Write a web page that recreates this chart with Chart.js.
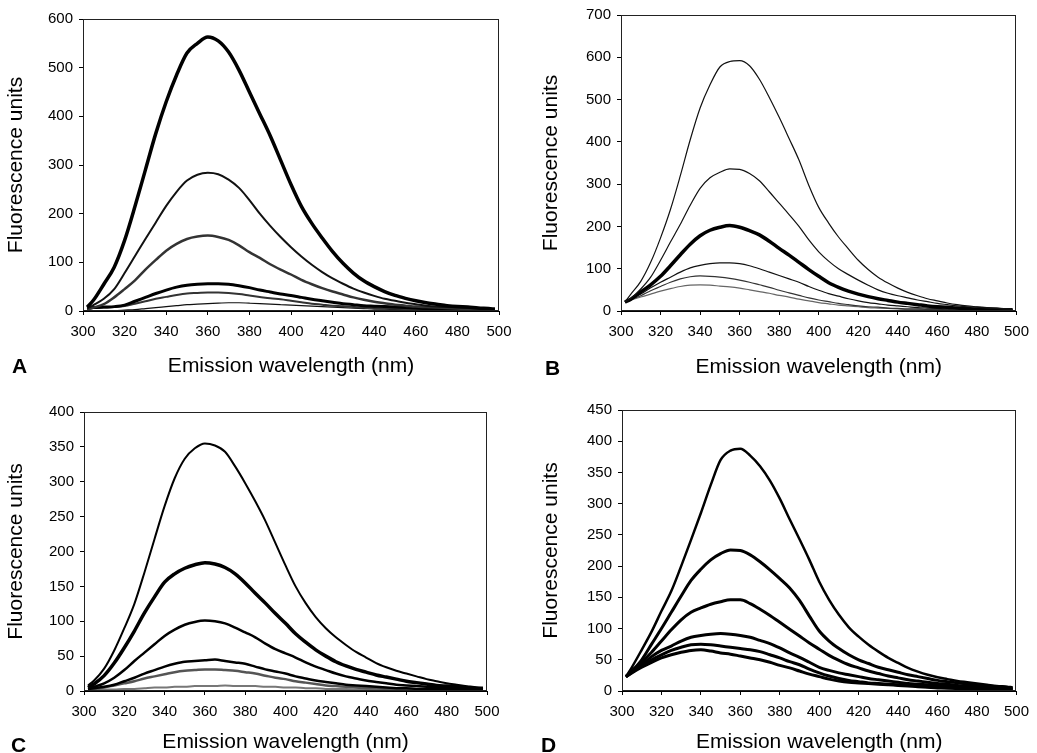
<!DOCTYPE html>
<html><head><meta charset="utf-8">
<script src="https://cdn.jsdelivr.net/npm/chart.js@4/dist/chart.umd.min.js"></script>
<style>
html,body{margin:0;padding:0;background:#fff;}
#wrap{position:relative;width:1037px;height:753px;overflow:hidden;background:#fff;}
canvas{position:absolute;}
.lbl{position:absolute;font:bold 21px "Liberation Sans",Arial,sans-serif;line-height:21px;color:#000;}
</style></head><body>
<div id="wrap">
<canvas id="cA" width="520" height="380" style="left:0;top:0"></canvas>
<canvas id="cB" width="517" height="380" style="left:520px;top:0"></canvas>
<canvas id="cC" width="520" height="373" style="left:0;top:380px"></canvas>
<canvas id="cD" width="517" height="373" style="left:520px;top:380px"></canvas>
<div class="lbl" style="left:12px;top:355px">A</div>
<div class="lbl" style="left:545px;top:357px">B</div>
<div class="lbl" style="left:11px;top:734px">C</div>
<div class="lbl" style="left:541px;top:734px">D</div>
</div>
<script>
const wavelengths = [302,305,310,315,320,325,330,335,340,345,350,355,360,365,370,375,380,385,390,395,400,405,410,415,420,425,430,435,440,445,450,455,460,465,470,475,480,485,490,495,498];

const xTitle = 'Emission wavelength (nm)';
const yTitle = 'Fluorescence units';

// Panel A
const A1 = [8,22,55,90,145,215,290,365,430,485,530,550,563,555,532,495,450,405,360,310,260,215,180,150,122,98,78,62,50,40,32,26,21,17,14,11,9,8,6,5,4];
const A2 = [5,12,25,45,78,113,148,182,216,245,268,280,284,281,270,253,228,200,175,152,131,112,95,80,67,56,46,38,31,25,21,17,14,11,9,8,7,6,5,4,3];
const A3 = [3,7,14,28,45,63,85,105,124,138,148,153,155,152,146,135,121,109,96,85,75,64,55,47,40,34,28,23,19,16,13,11,9,8,7,6,5,4,4,3,3];
const A4 = [6,7,8,9,12,20,28,36,43,49,53,55,56,56,55,52,48,43,39,35,32,28,24,21,18,15,13,11,10,9,8,7,6,5,5,4,4,4,3,3,3];
const A5 = [5,6,7,8,10,15,20,25,29,33,36,37,38,38,37,35,32,29,26,24,21,18,15,13,11,10,8,7,6,5,5,4,4,4,3,3,3,3,2,2,2];
const A6 = [2,1,1,1,2,3,5,7,9,11,13,14,15,16,17,17,16,15,14,13,12,11,10,9,8,7,6,5,4,4,3,3,2,2,2,2,1,1,1,1,1];

// Panel B
const B1 = [21,40,70,115,173,240,320,405,480,535,577,590,592,580,548,505,458,408,357,297,245,208,175,147,120,98,80,66,54,44,36,29,24,19,15,12,10,8,6,5,4];
const B2 = [21,30,52,80,120,163,205,250,290,315,328,336,335,325,308,282,255,228,200,168,140,118,100,86,73,61,50,42,36,31,26,22,18,15,12,10,9,7,6,5,4];
const B3 = [21,28,45,62,82,107,133,158,178,191,198,202,198,190,180,165,148,132,115,98,82,67,56,47,40,34,29,25,21,18,15,12,10,9,7,6,5,5,4,3,3];
const B4 = [21,28,40,55,68,80,92,102,108,112,114,114,112,107,100,92,84,76,68,58,49,41,35,29,24,20,17,14,12,10,8,7,6,5,5,4,4,3,3,3,2];
const B5 = [21,27,36,48,58,68,76,81,83,82,80,77,73,68,62,56,49,43,37,31,26,22,18,15,12,10,9,7,6,5,5,4,4,3,3,3,2,2,2,2,2];
const B6 = [21,26,33,40,47,53,58,61,62,61,59,57,54,50,46,42,37,33,28,24,20,17,14,12,10,8,7,6,5,4,4,3,3,3,2,2,2,2,2,1,1];

// Panel C
const C1 = [8,15,32,58,90,125,170,218,265,305,333,348,355,352,343,322,298,272,244,212,180,150,126,106,90,77,66,56,48,40,34,29,25,21,17,14,11,9,7,5,4];
const C2 = [5,10,22,40,62,86,112,135,156,168,176,181,184,182,177,168,155,140,126,111,97,82,70,59,50,42,36,31,27,23,20,17,14,12,10,8,7,6,5,4,4];
const C3 = [3,6,11,19,30,43,55,67,79,88,95,99,101,100,97,91,84,77,68,60,54,48,41,35,30,25,21,18,15,13,11,9,8,7,6,5,4,4,3,3,2];
const C4 = [3,4,6,9,14,19,25,30,35,39,42,43,44,45,43,41,39,35,31,28,25,21,18,15,13,11,9,8,7,6,5,4,4,3,3,3,2,2,2,2,2];
const C5 = [2,3,5,8,11,14,18,21,24,27,29,30,31,31,30,29,27,25,22,19,17,14,12,10,8,7,6,5,4,4,3,3,2,2,2,2,2,1,1,1,1];
const C6 = [1,1,2,2,3,3,4,5,5,6,6,7,7,7,8,7,7,7,6,6,5,5,4,4,3,3,3,2,2,2,2,1,1,1,1,1,1,1,1,1,1];

// Panel D
const D1 = [23,38,66,95,128,160,200,242,285,330,370,385,388,377,360,337,308,275,243,210,175,146,122,102,87,74,63,53,45,37,31,26,22,19,16,14,12,10,8,7,6];
const D2 = [23,32,50,75,100,126,152,177,195,210,220,226,225,218,207,194,180,165,145,120,96,80,68,58,50,44,38,34,30,26,23,20,17,15,13,11,9,8,7,6,5];
const D3 = [23,32,46,62,80,98,114,126,133,139,143,146,146,140,131,121,110,99,88,77,67,57,49,42,37,32,28,24,21,18,16,14,12,11,9,8,7,6,5,5,4];
const D4 = [23,30,42,55,65,72,80,86,89,91,92,91,89,86,81,76,69,61,54,46,38,33,29,26,23,20,18,16,14,12,11,10,9,8,7,6,5,5,4,4,3];
const D5 = [23,30,40,50,58,65,70,74,75,74,72,70,68,66,63,58,53,47,42,35,29,24,20,17,15,13,12,11,10,9,8,7,6,5,5,4,4,3,3,3,2];
const D6 = [23,29,38,46,53,58,62,65,66,64,61,59,56,53,50,46,41,37,32,27,23,19,16,14,13,12,11,10,9,8,7,6,5,5,4,4,3,3,3,2,2];

const FONT = '"Liberation Sans", Arial, sans-serif';

const boxPlugin = {
  id: 'box',
  afterDatasetsDraw(chart) {
    const {ctx, chartArea: a} = chart;
    ctx.save();
    ctx.strokeStyle = '#222';
    ctx.lineWidth = 1;
    ctx.strokeRect(Math.round(a.left) + 0.5, Math.round(a.top) + 0.5, Math.round(a.right - a.left) - 1, Math.round(a.bottom - a.top) - 1);
    ctx.restore();
  }
};

function makeChart(id, cfg) {
  new Chart(document.getElementById(id), {
    type: 'line',
    data: {
      datasets: cfg.series.map((s, i) => ({
        data: wavelengths.map((w, j) => ({x: w, y: s[j]})),
        borderColor: cfg.colors[i],
        borderWidth: cfg.widths[i],
        pointRadius: 0,
        fill: false,
        cubicInterpolationMode: 'monotone'
      }))
    },
    options: {
      responsive: false,
      animation: false,
      devicePixelRatio: 1,
      layout: {padding: cfg.pad},
      plugins: {legend: {display: false}, tooltip: {enabled: false}},
      scales: {
        x: {
          type: 'linear', min: 300, max: 500,
          ticks: {stepSize: 20, color: '#000', font: {size: 15, family: FONT}, padding: 8, maxRotation: 0, autoSkip: false},
          grid: {drawOnChartArea: false, drawTicks: true, tickLength: 4, color: '#000'},
          border: {display: true, color: '#000'},
          title: {display: true, text: xTitle, color: '#000', font: {size: 21, family: FONT, lineHeight: 1}, padding: {top: 0, bottom: cfg.xTitlePad}},
          afterFit: s => { s.height = cfg.xH; }
        },
        y: {
          type: 'linear', min: 0, max: cfg.ymax,
          ticks: {stepSize: cfg.ystep, color: '#000', font: {size: 15, family: FONT}, padding: 6},
          grid: {drawOnChartArea: false, drawTicks: true, tickLength: 4, color: '#000'},
          border: {display: true, color: '#000'},
          title: {display: true, text: yTitle, color: '#000', font: {size: 21, family: FONT, lineHeight: 1}, padding: {top: cfg.yTitlePad, bottom: 0}},
          afterFit: s => { s.width = cfg.yW; }
        }
      }
    },
    plugins: [boxPlugin]
  });
}

makeChart('cA', {
  series: [A1, A2, A3, A4, A5, A6],
  colors: ['#000', '#111', '#333', '#000', '#333', '#111'],
  widths: [3.5, 2, 2.5, 3, 2, 1.2],
  pad: {left: 0, top: 19, right: 21, bottom: 0},
  yW: 83, xH: 69, xTitlePad: 3, yTitlePad: 6,
  ymax: 600, ystep: 100
});
makeChart('cB', {
  series: [B1, B2, B3, B4, B5, B6],
  colors: ['#111', '#111', '#000', '#111', '#333', '#666'],
  widths: [1.2, 1.2, 3.5, 1.2, 1.2, 1.2],
  pad: {left: 0, top: 12, right: 13, bottom: 0},
  yW: 101, xH: 69, xTitlePad: 2, yTitlePad: 21,
  ymax: 700, ystep: 100
});
makeChart('cC', {
  series: [C1, C2, C3, C4, C5, C6],
  colors: ['#000', '#000', '#000', '#000', '#555', '#777'],
  widths: [2, 3.5, 2.5, 2.5, 2.5, 2],
  pad: {left: 0, top: 32, right: 33, bottom: 0},
  yW: 84, xH: 62, xTitlePad: 0, yTitlePad: 6,
  ymax: 400, ystep: 50
});
makeChart('cD', {
  series: [D1, D2, D3, D4, D5, D6],
  colors: ['#000', '#000', '#000', '#000', '#000', '#000'],
  widths: [2.5, 3, 3, 3, 3, 3],
  pad: {left: 0, top: 30, right: 13, bottom: 0},
  yW: 102, xH: 62, xTitlePad: 0, yTitlePad: 21,
  ymax: 450, ystep: 50
});
</script>
</body></html>
